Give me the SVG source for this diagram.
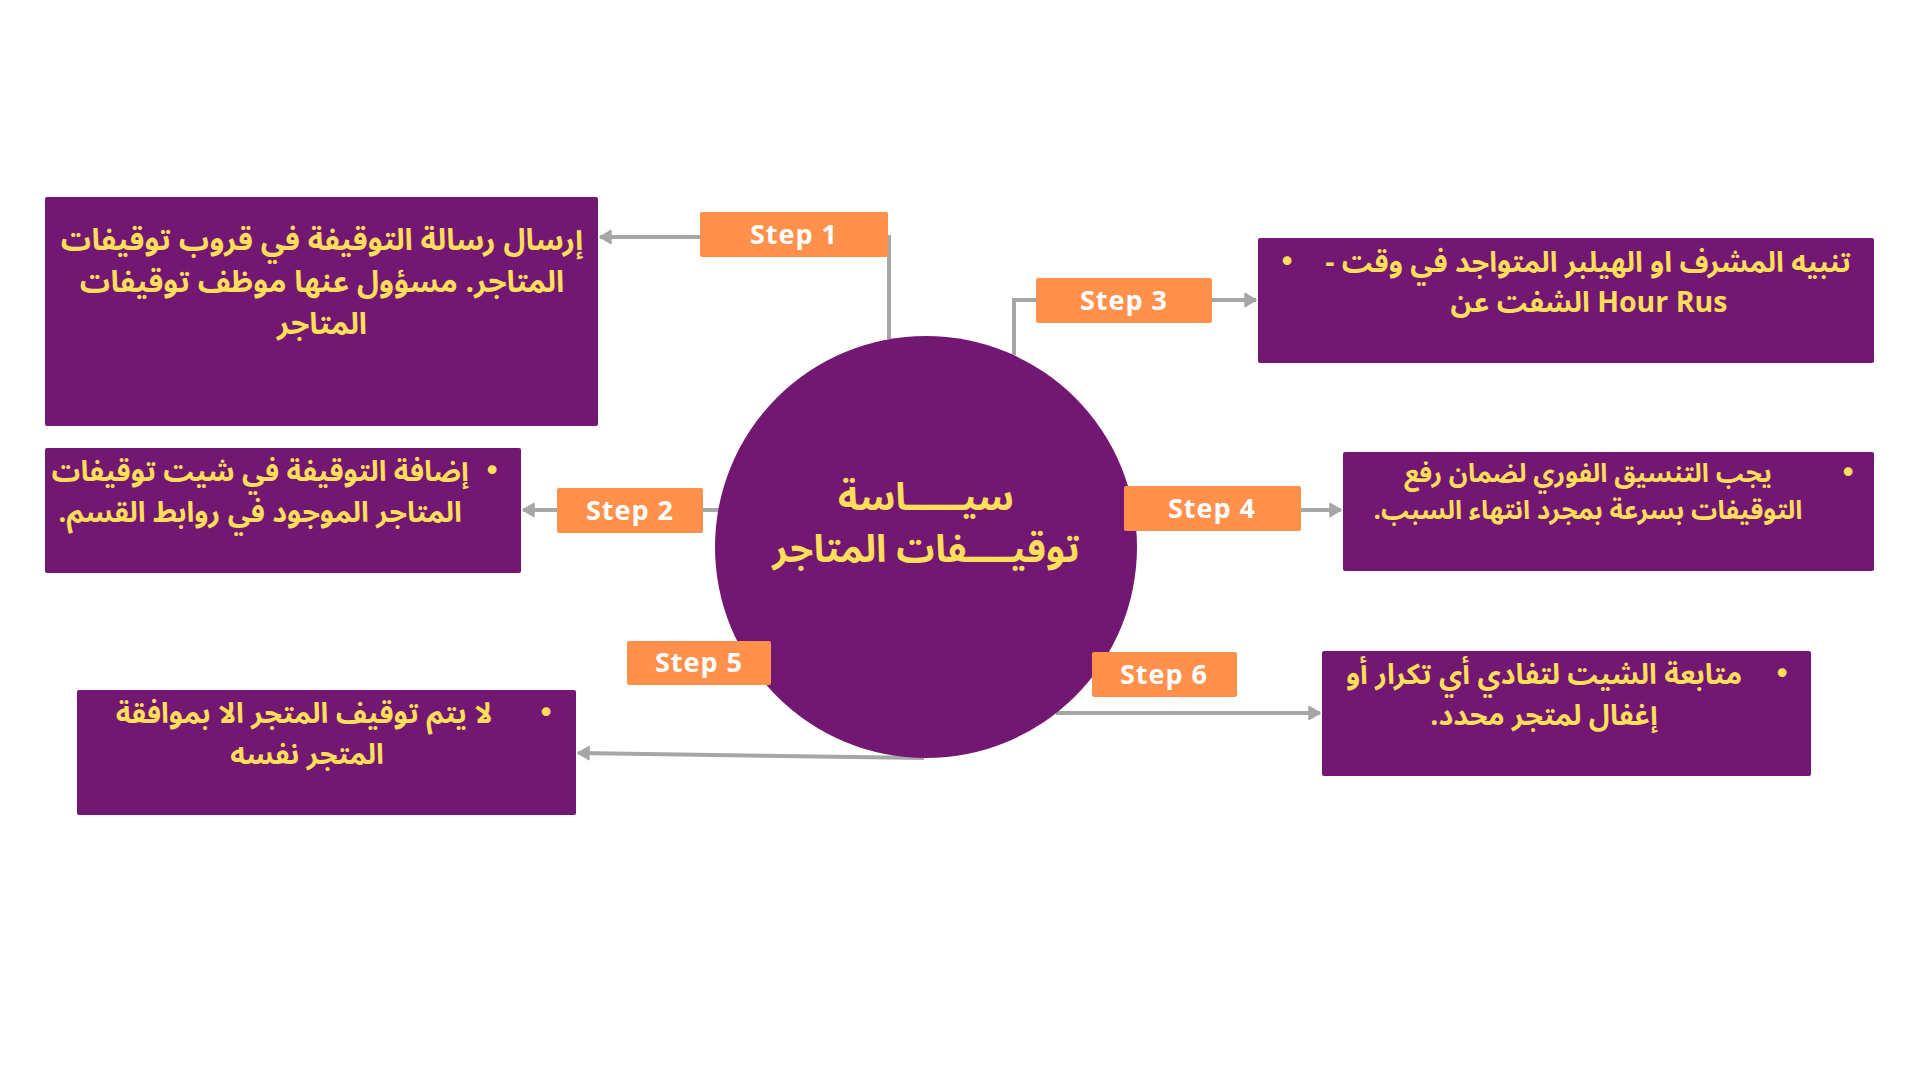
<svg xmlns="http://www.w3.org/2000/svg" width="1920" height="1080" viewBox="0 0 1920 1080">
  <style>
    .box { fill: #721873; }
    .step { fill: #FF914D; }
    .steptxt { fill: #FFFFFF; font-family: "Open Sans", "Noto Sans", sans-serif; font-weight: 700; font-size: 27px; letter-spacing: 1px; text-anchor: middle; }
    .ar { fill: #FFDE59; font-family: "Noto Sans Arabic", "DejaVu Sans", sans-serif; font-weight: 700; font-size: 28.5px; text-anchor: middle; direction: rtl; }
    .ar1 { font-size: 30px; }
    .ar4 { font-size: 26px; }
    .title { fill: #FFDE59; font-family: "Noto Sans Arabic", "DejaVu Sans", sans-serif; font-weight: 700; font-size: 38px; text-anchor: middle; direction: rtl; }
    .bullet { fill: #FFDE59; font-family: "DejaVu Sans", sans-serif; font-size: 30px; text-anchor: middle; }
    .conn { fill: none; stroke: #A6A6A6; stroke-width: 4; }
  </style>
  <defs>
    <marker id="arrow" markerUnits="userSpaceOnUse" markerWidth="14" markerHeight="16" refX="12" refY="8" orient="auto">
      <path d="M1,1.5 L12,8 L1,14.5 Z" fill="#A6A6A6" stroke="#A6A6A6" stroke-width="1.5" stroke-linejoin="round"/>
    </marker>
  </defs>
  <rect width="1920" height="1080" fill="#FFFFFF"/>

  <g id="connectors">
    <polyline class="conn" points="889,339 889,237 600,237" marker-end="url(#arrow)"/>
    <line class="conn" x1="720" y1="510" x2="523" y2="510" marker-end="url(#arrow)"/>
    <polyline class="conn" points="1014,355 1014,300 1256,300" marker-end="url(#arrow)"/>
    <line class="conn" x1="1132" y1="510" x2="1341" y2="510" marker-end="url(#arrow)"/>
    <line class="conn" x1="924" y1="758" x2="578" y2="753" marker-end="url(#arrow)"/>
    <line class="conn" x1="1056" y1="713" x2="1320" y2="713" marker-end="url(#arrow)"/>
  </g>

  <g id="center">
    <circle cx="926" cy="547" r="211" fill="#721873"/>
    <text class="title" x="926" y="510">سيـــــاسة</text>
    <text class="title" x="926" y="562">توقيــــفات المتاجر</text>
  </g>

  <g id="box1">
    <rect class="box" x="45" y="197" width="553" height="229" rx="2"/>
    <text class="ar ar1" x="322" y="250">إرسال رسالة التوقيفة في قروب توقيفات</text>
    <text class="ar ar1" x="322" y="292">المتاجر. مسؤول عنها موظف توقيفات</text>
    <text class="ar ar1" x="322" y="334">المتاجر</text>
  </g>

  <g id="box2">
    <rect class="box" x="45" y="448" width="476" height="125" rx="2"/>
    <text class="bullet" x="492" y="481">•</text>
    <text class="ar" x="260" y="481">إضافة التوقيفة في شيت توقيفات</text>
    <text class="ar" x="260" y="522">المتاجر الموجود في روابط القسم.</text>
  </g>

  <g id="box3">
    <rect class="box" x="1258" y="238" width="616" height="125" rx="2"/>
    <text class="bullet" x="1287" y="272">•</text>
    <text class="ar" x="1588" y="272">تنبيه المشرف او الهيلبر المتواجد في وقت -</text>
    <text class="ar" x="1589" y="312" style="direction: ltr">الشفت عن Hour Rus</text>
  </g>

  <g id="box4">
    <rect class="box" x="1343" y="452" width="531" height="119" rx="2"/>
    <text class="bullet" x="1848" y="483">•</text>
    <text class="ar ar4" x="1588" y="482">يجب التنسيق الفوري لضمان رفع</text>
    <text class="ar ar4" x="1588" y="519">التوقيفات بسرعة بمجرد انتهاء السبب.</text>
  </g>

  <g id="box5">
    <rect class="box" x="77" y="690" width="499" height="125" rx="2"/>
    <text class="bullet" x="546" y="723">•</text>
    <text class="ar" x="304" y="723">لا يتم توقيف المتجر الا بموافقة</text>
    <text class="ar" x="307" y="764">المتجر نفسه</text>
  </g>

  <g id="box6">
    <rect class="box" x="1322" y="651" width="489" height="125" rx="2"/>
    <text class="bullet" x="1782" y="684">•</text>
    <text class="ar" x="1544" y="684">متابعة الشيت لتفادي أي تكرار أو</text>
    <text class="ar" x="1544" y="725">إغفال لمتجر محدد.</text>
  </g>

  <g id="step1">
    <rect class="step" x="700" y="212" width="188" height="45" rx="2"/>
    <text class="steptxt" x="794" y="244">Step 1</text>
  </g>
  <g id="step2">
    <rect class="step" x="557" y="488" width="146" height="45" rx="2"/>
    <text class="steptxt" x="630" y="520">Step 2</text>
  </g>
  <g id="step3">
    <rect class="step" x="1036" y="278" width="176" height="45" rx="2"/>
    <text class="steptxt" x="1124" y="310">Step 3</text>
  </g>
  <g id="step4">
    <rect class="step" x="1124" y="486" width="177" height="45" rx="2"/>
    <text class="steptxt" x="1212" y="518">Step 4</text>
  </g>
  <g id="step5">
    <rect class="step" x="627" y="641" width="144" height="44" rx="2"/>
    <text class="steptxt" x="699" y="672">Step 5</text>
  </g>
  <g id="step6">
    <rect class="step" x="1092" y="652" width="145" height="45" rx="2"/>
    <text class="steptxt" x="1164" y="684">Step 6</text>
  </g>
</svg>
